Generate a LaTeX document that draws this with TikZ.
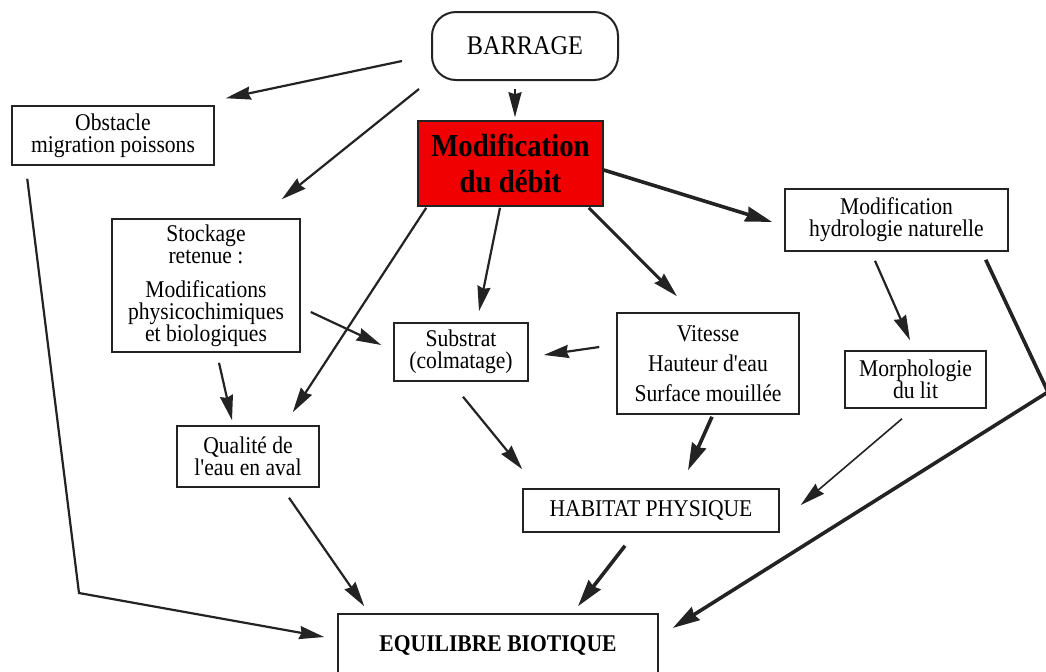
\documentclass[tikz,border=0pt]{standalone}
\usepackage{fontspec}
\setmainfont{Liberation Serif}[FakeStretch=0.9,Ligatures=TeXOff]
\usetikzlibrary{arrows.meta,calc}
\definecolor{debitred}{RGB}{240,0,0}
\definecolor{ink}{RGB}{35,35,35}

\begin{document}
\begin{tikzpicture}[x=0.5pt,y=-0.5pt,
  box/.style={draw=ink,line width=0.75pt,align=center,inner sep=0pt,font=\fontsize{12}{11}\selectfont},
  arr/.style={draw=ink,line width=1.1pt,-{Stealth[length=12.5pt,width=6.5pt,inset=1pt]}},
  heavy/.style={arr,line width=1.8pt,-{Stealth[length=13.5pt,width=7.5pt,inset=1pt]}}]

\clip (0,0) rectangle (1046,671);
\fill[white] (0,0) rectangle (1046,671);

\node(barrage) at (525,46)[box,rounded corners=12pt,line width=1pt,minimum width=93pt,minimum height=34pt,font=\fontsize{13.5}{14}\selectfont]{BARRAGE};
\node(obstacle) at (113,135.5)[box,minimum width=101pt,minimum height=29.5pt]{Obstacle\\migration poissons};
\node(debit) at (510.5,163.5)[box,fill=debitred,minimum width=92.5pt,minimum height=42.5pt,font=\bfseries\fontsize{16}{18}\selectfont]{Modification\\du débit};
\node(stockage) at (206,285.5)[box,minimum width=94pt,minimum height=66.5pt]{Stockage\\retenue :\\[6pt]Modifications\\physicochimiques\\et biologiques};
\node(hydro) at (896.5,220)[box,minimum width=111.5pt,minimum height=31pt]{Modification\\hydrologie naturelle};
\node(substrat) at (461,352)[box,minimum width=67pt,minimum height=29pt]{Substrat\\(colmatage)};
\node(vitesse) at (708,363.5)[box,minimum width=91pt,minimum height=50.5pt,font=\fontsize{12}{15}\selectfont]{Vitesse\\Hauteur d'eau\\Surface mouillée};
\node(morpho) at (915.5,379.5)[box,minimum width=70.5pt,minimum height=28.5pt]{Morphologie\\du lit};
\node(qualite) at (248,456.5)[box,minimum width=71pt,minimum height=30.5pt]{Qualité de\\l'eau en aval};
\node(habitat) at (651,510.5)[box,minimum width=128pt,minimum height=21.5pt]{HABITAT PHYSIQUE};
\node(equilibre) at (498,645)[box,minimum width=160pt,minimum height=31pt,font=\bfseries\fontsize{12}{14}\selectfont]{EQUILIBRE BIOTIQUE};

\coordinate(c1) at (79,593);
\coordinate(c2) at (1048,392);

\draw[arr] ($(barrage.west)+(-29,15)$) -- ($(obstacle.north east)+(11,-7)$);
\draw[arr] ($(barrage.south west)+(-12,8)$) -- ($(stockage.north east)+(-19,-19)$);
\draw[arr] ($(barrage.south)+(-10,8)$) -- ($(debit.north)+(4.5,-3)$);
\draw[heavy] ($(debit.east)+(0,6.5)$) -- ($(hydro.west)+(-12,2)$);
\draw[arr,line width=1.5pt] ($(debit.south east)+(-15,1)$) -- ($(vitesse.north)+(-31,-16)$);
\draw[arr] ($(debit.south)+(-10.5,1)$) -- ($(substrat.north)+(18,-11)$);
\draw[arr] ($(debit.south west)+(9,1)$) -- ($(qualite.north east)+(-27,-13)$);
\draw[arr] ($(stockage.east)+(10,26.5)$) -- ($(substrat.west)+(-12,-7)$);
\draw[arr] ($(stockage.south)+(13,10)$) -- ($(qualite.north)+(-16,-5)$);
\draw[arr] ($(vitesse.west)+(-17,-16.5)$) -- ($(substrat.east)+(15,3)$);
\draw[arr] ($(substrat.south)+(2,15)$) -- ($(habitat.north west)+(0,-19)$);
\draw[heavy] ($(vitesse.south)+(4,2)$) -- ($(habitat.north)+(37,-18)$);
\draw[arr] ($(hydro.south)+(-21.5,9)$) -- ($(morpho.north)+(-5.5,-10)$);
\draw[heavy] ($(hydro.south east)+(-23,8)$) -- (c2) -- ($(equilibre.east)+(14,-17)$);
\draw[arr,line width=0.8pt] ($(morpho.south)+(-13.5,10)$) -- ($(habitat.east)+(21,-5.5)$);
\draw[arr] ($(qualite.south)+(41,10)$) -- ($(equilibre.north west)+(27,-7)$);
\draw[heavy] ($(habitat.south)+(-26,13)$) -- ($(equilibre.north)+(80,-7)$);
\draw[arr] ($(obstacle.south west)+(16,13)$) -- (c1) -- ($(equilibre.west)+(-13,-8)$);

\end{tikzpicture}
\end{document}
